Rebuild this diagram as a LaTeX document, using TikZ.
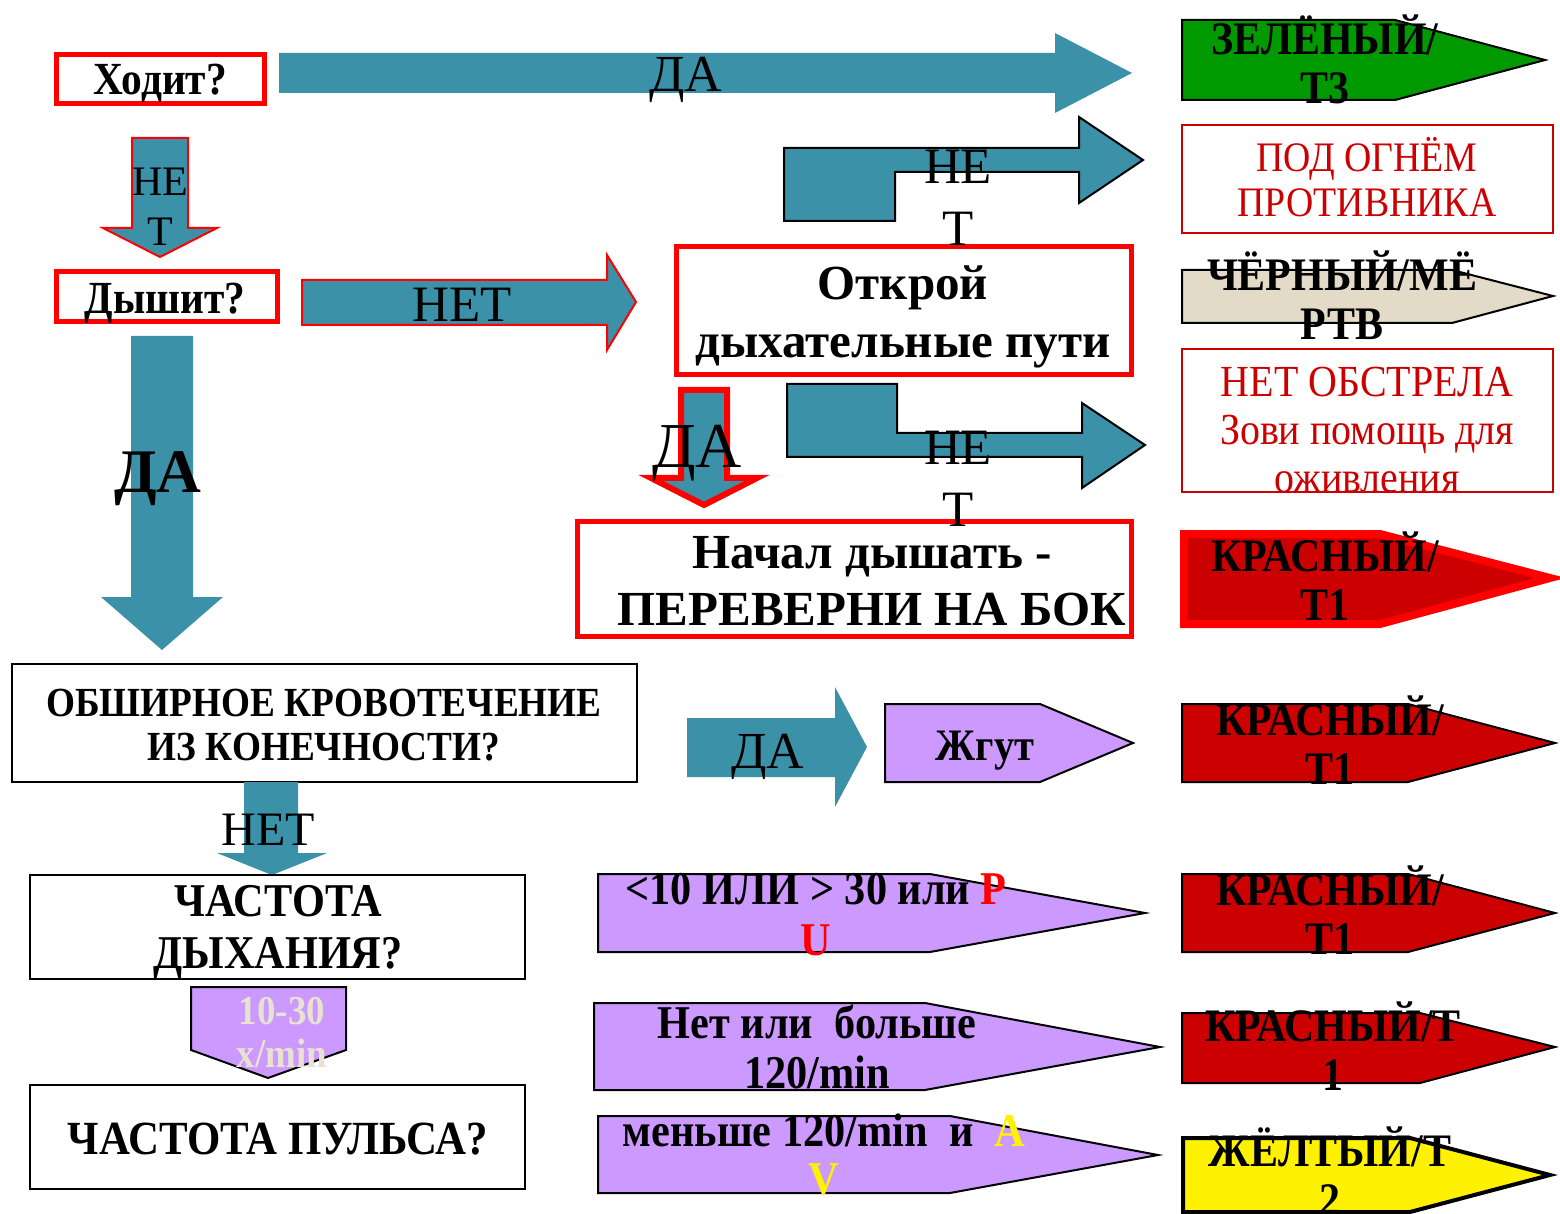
\documentclass[tikz,border=0pt]{standalone}
\usepackage{fontspec}
\setmainfont{Liberation Serif}
\newfontfamily\cnd[FakeStretch=0.9]{Liberation Serif}
\definecolor{arrowteal}{RGB}{59,145,168}
\definecolor{tagpurple}{RGB}{204,153,255}
\definecolor{darkred}{RGB}{204,0,0}
\definecolor{triagegreen}{RGB}{0,153,0}
\definecolor{beige}{RGB}{227,219,199}
\definecolor{pale}{RGB}{232,226,208}
\newcommand{\fs}[2]{\fontsize{#1}{#2}\selectfont}

\begin{document}
\begin{tikzpicture}[x=0.5pt,y=-0.5pt,
  every node/.style={inner sep=0pt, align=center},
  fat/.style={fill=arrowteal},
  fatblack/.style={fill=arrowteal, draw=black, line width=1pt},
  fatred/.style={fill=arrowteal, draw=red, line width=1pt},
  redframe/.style={draw=red, line width=2.5pt},
  question/.style={draw=black, line width=1pt},
  notebox/.style={draw=darkred, line width=1pt},
  purpletag/.style={fill=tagpurple, draw=black, line width=1pt},
  triage/.style={draw=black, line width=1pt},
  cat/.style={font=\cnd\fs{23.3}{24.5}\bfseries}]
\useasboundingbox (0,0) rectangle (1560,1214);

%% left column
\draw[redframe] (56,55) rectangle (264,104);
\fill[fat] (279,53) -- (1055,53) -- (1055,33) -- (1132,73) -- (1055,113) -- (1055,93) -- (279,93) -- cycle;
\draw[fatred] (132,138) -- (188,138) -- (188,228) -- (217,228) -- (160,257) -- (103,228) -- (132,228) -- cycle;
\draw[redframe] (56,272) rectangle (277,322);
\draw[fatred] (302,280) -- (607,280) -- (607,255) -- (636,302) -- (607,350) -- (607,325) -- (302,325) -- cycle;
\fill[fat] (131,336) -- (193,336) -- (193,597) -- (223,597) -- (162,650) -- (101,597) -- (131,597) -- cycle;
\draw[question] (12,664) rectangle (637,782);
\fill[fat] (244,782) -- (298,782) -- (298,853) -- (327,853) -- (272,875) -- (217,853) -- (244,853) -- cycle;
\draw[question] (30,875) rectangle (525,979);
\draw[purpletag] (191,987) -- (346,987) -- (346,1050) -- (268,1078) -- (191,1050) -- cycle;
\draw[question] (30,1085) rectangle (525,1189);

%% middle column
\draw[fatblack] (784,148) -- (1079,148) -- (1079,117) -- (1143,160) -- (1079,203) -- (1079,172) -- (895,172) -- (895,221) -- (784,221) -- cycle;
\draw[redframe] (676,247) rectangle (1131,375);
\draw[fatblack] (787,384) -- (897,384) -- (897,433) -- (1082,433) -- (1082,403) -- (1145,445) -- (1082,488) -- (1082,457) -- (787,457) -- cycle;
\draw[fatred, line width=3pt] (681,390) -- (727,390) -- (727,478) -- (757,478) -- (704,505) -- (651,478) -- (681,478) -- cycle;
\draw[redframe] (577,522) rectangle (1131,636);
\fill[fat] (687,718) -- (835,718) -- (835,687) -- (867,747) -- (835,807) -- (835,777) -- (687,777) -- cycle;
\draw[purpletag] (885,704) -- (1040,704) -- (1133,743) -- (1040,782) -- (885,782) -- cycle;
\draw[purpletag] (598,874) -- (930,874) -- (1145,913) -- (930,952) -- (598,952) -- cycle;
\draw[purpletag] (594,1003) -- (925,1003) -- (1160,1047) -- (925,1090) -- (594,1090) -- cycle;
\draw[purpletag] (598,1116) -- (950,1116) -- (1158,1155) -- (950,1193) -- (598,1193) -- cycle;

%% right column
\draw[triage, fill=triagegreen] (1182,20) -- (1395,20) -- (1545,60) -- (1395,100) -- (1182,100) -- cycle;
\draw[notebox] (1182,125) rectangle (1553,233);
\draw[triage, fill=beige] (1182,270) -- (1452,270) -- (1553,296) -- (1452,323) -- (1182,323) -- cycle;
\draw[notebox] (1182,349) rectangle (1553,492);
\draw[fill=darkred, draw=red, line width=4pt] (1184,534) -- (1380,534) -- (1550,578) -- (1380,624) -- (1184,624) -- cycle;
\draw[triage, fill=darkred] (1182,704) -- (1408,704) -- (1555,743) -- (1408,782) -- (1182,782) -- cycle;
\draw[triage, fill=darkred] (1182,874) -- (1408,874) -- (1555,913) -- (1408,952) -- (1182,952) -- cycle;
\draw[triage, fill=darkred] (1182,1013) -- (1420,1013) -- (1555,1047) -- (1420,1083) -- (1182,1083) -- cycle;
\draw[triage, fill=yellow, line width=2pt] (1183,1138) -- (1410,1138) -- (1550,1175) -- (1410,1212) -- (1183,1212) -- cycle;

%% texts
\node[anchor=base, font=\cnd\fs{23}{26}\bfseries] (walks) at (160,95) {Ходит?};
\node[anchor=base, font=\fs{26}{31}] (walkyes) at (686,92) {ДА};
\node[font=\fs{21}{25}] (walkno) at (160,207) {НЕ\\Т};
\node[anchor=base, font=\cnd\fs{23}{26}\bfseries] (breathes) at (165,314) {Дышит?};
\node[anchor=base, font=\fs{25.5}{30}] (breathno) at (462,322) {НЕТ};
\node[anchor=base, font=\fs{31}{36}\bfseries] (breathyes) at (158,493) {ДА};
\node[font=\fs{24.5}{29}\bfseries] (airway) at (903,317) {Открой\\дыхательные пути};
\node[font=\fs{25.5}{31}] (airwayno) at (958,198) {НЕ\\Т};
\node[font=\fs{25.5}{31}] (stillno) at (958,479) {НЕ\\Т};
\node[anchor=base, font=\fs{32}{37}] (airwayyes) at (697,467) {ДА};
\node[font=\fs{24.5}{28.5}\bfseries] (turnside) at (872,581) {Начал дышать -\\ПЕРЕВЕРНИ НА БОК};
\node[font=\cnd\fs{20.7}{22}\bfseries] (bleeding) at (324,725) {ОБШИРНОЕ КРОВОТЕЧЕНИЕ\\ИЗ КОНЕЧНОСТИ?};
\node[anchor=base, font=\fs{24}{29}] (bleedno) at (268,845) {НЕТ};
\node[anchor=base, font=\fs{26}{31}] (bleedyes) at (768,768) {ДА};
\node[anchor=base, font=\cnd\fs{22.5}{26}\bfseries] (tourniquet) at (985,760) {Жгут};
\node[font=\cnd\fs{23.5}{26}\bfseries] (resp) at (278,932) {ЧАСТОТА\\ДЫХАНИЯ?};
\node[font=\cnd\fs{20.5}{21.5}\bfseries, text=pale] (respok) at (282,1033) {10-30\\x/min};
\node[anchor=base, font=\cnd\fs{23.8}{28}\bfseries] (pulse) at (278,1154) {ЧАСТОТА ПУЛЬСА?};
\node[font=\cnd\fs{23.5}{25.5}\bfseries] (respbad) at (816,915) {<10 ИЛИ > 30 или \textcolor{red}{P}\\\textcolor{red}{U}};
\node[font=\cnd\fs{23.5}{25}\bfseries] (pulsebad) at (817,1047) {Нет или~ больше\\120/min};
\node[font=\cnd\fs{23.5}{24}\bfseries] (pulseok) at (824,1155) {меньше 120/min~ и~ \textcolor{yellow}{A}\\\textcolor{yellow}{V}};
\node[cat] (green) at (1325,59) {ЗЕЛЁНЫЙ/\\Т3};
\node[font=\cnd\fs{21}{22.5}, text=darkred] (underfire) at (1367,177) {ПОД ОГНЁМ\\ПРОТИВНИКА};
\node[cat] (black) at (1342,295) {ЧЁРНЫЙ/МЁ\\РТВ};
\begin{scope}
\clip (1182,349) rectangle (1553,492);
\node[font=\cnd\fs{22.2}{24}, text=darkred] (nofire) at (1367,430) {НЕТ ОБСТРЕЛА\\Зови помощь для\\оживления};
\end{scope}
\node[cat] (redA) at (1325,576) {КРАСНЫЙ/\\Т1};
\node[cat] (redB) at (1330,740) {КРАСНЫЙ/\\Т1};
\node[cat] (redC) at (1330,910) {КРАСНЫЙ/\\Т1};
\node[cat] (redD) at (1333,1046) {КРАСНЫЙ/Т\\1};
\node[cat] (yellow) at (1330,1171) {ЖЁЛТЫЙ/Т\\2};
\end{tikzpicture}
\end{document}
